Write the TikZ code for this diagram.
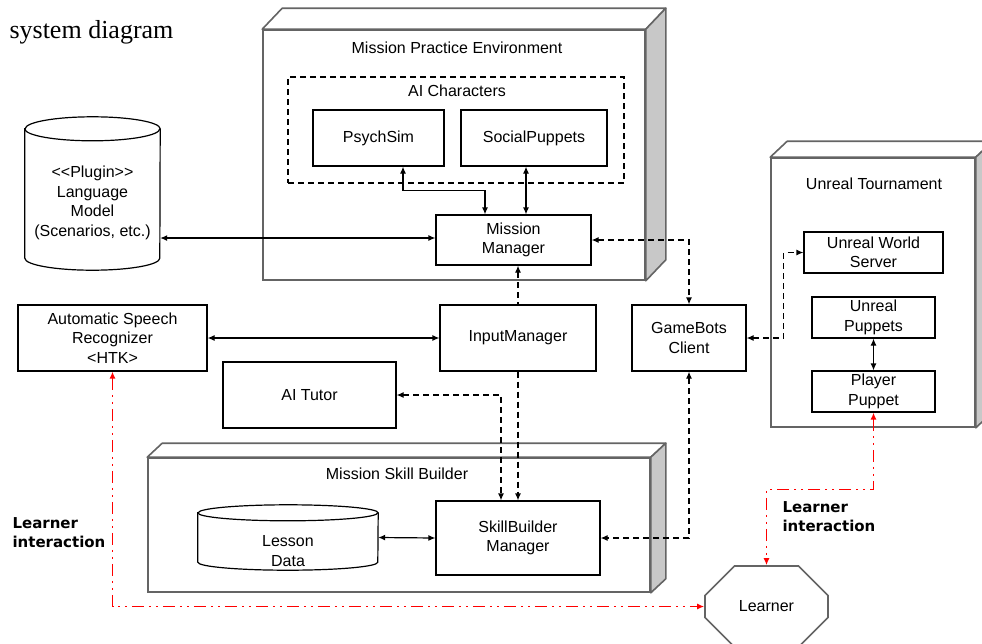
\documentclass[tikz,border=0pt]{standalone}
\usepackage{fontspec}
\setmainfont{Liberation Sans}
\newfontfamily\titleserif{Liberation Serif}
\newfontfamily\heavyfont{DejaVu Sans}
\usetikzlibrary{arrows.meta,shapes.misc}
\definecolor{cubegray}{RGB}{100,100,100}
\definecolor{sidegray}{RGB}{200,200,200}

\begin{document}
\begin{tikzpicture}[x=1pt,y=-1pt,
  >={Latex[length=7pt,width=6pt]},
  every node/.style={font=\fontsize{16}{19.5}\selectfont},
  box/.style={draw,line width=1.2pt,fill=white,align=center,inner sep=0pt},
  cube/.style={draw=cubegray,line width=1.6pt,fill=white,inner sep=0pt},
  face/.style={draw=cubegray,line width=1.6pt,line join=round},
  cyl/.style={line width=1.2pt,fill=white},
  link/.style={line width=1.2pt,<->},
  dlink/.style={link,dash pattern=on 6pt off 4pt},
  rlink/.style={line width=1.4pt,red,<->,dash pattern=on 12pt off 5pt on 2pt off 5pt on 2pt off 5pt},
  note/.style={font=\heavyfont\bfseries\fontsize{15}{19}\selectfont,align=left,anchor=west}]
\path[use as bounding box,fill=white] (0,0) rectangle (982,643);

\node[font=\titleserif\fontsize{26}{30}\selectfont,anchor=base west] (title) at (6,38) {system diagram};

% Mission Practice Environment
\node[cube,minimum width=382pt,minimum height=250pt] (mpe) at (454,155) {};
\draw[face,fill=white] (mpe.north west) -- ++(20,-21) -- ([shift={(20,-21)}]mpe.north east) -- (mpe.north east) -- cycle;
\draw[face,fill=sidegray] (mpe.north east) -- ++(20,-21) -- ([shift={(20,-21)}]mpe.south east) -- (mpe.south east) -- cycle;
\node (mpetitle) at (457,48) {Mission Practice Environment};
\node[draw,dashed,line width=1.1pt,dash pattern=on 6pt off 4pt,minimum width=336pt,minimum height=106pt] (aichar) at (456,130) {};
\node (aititle) at (457,91) {AI Characters};
\node[box,minimum width=131pt,minimum height=56pt] (psychsim) at (378.5,138) {PsychSim};
\node[box,minimum width=146pt,minimum height=56pt] (social) at (534,138) {SocialPuppets};
\node[box,minimum width=155pt,minimum height=50pt] (mm) at (513.5,240) {Mission\\Manager};

% Unreal Tournament
\node[cube,minimum width=204pt,minimum height=269pt] (ut) at (873,292.5) {};
\draw[face,fill=white] (ut.north west) -- ++(17,-16) -- ([shift={(17,-16)}]ut.north east) -- (ut.north east) -- cycle;
\draw[face,fill=sidegray] (ut.north east) -- ++(17,-16) -- ([shift={(17,-16)}]ut.south east) -- (ut.south east) -- cycle;
\node (uttitle) at (874,184) {Unreal Tournament};
\node[box,minimum width=139pt,minimum height=41pt] (uws) at (873.5,252.5) {Unreal World\\Server};
\node[box,minimum width=123pt,minimum height=41pt] (up) at (873.5,317.5) {Unreal\\Puppets};
\node[box,minimum width=123pt,minimum height=41pt] (pp) at (873.5,391.5) {Player\\Puppet};

% Mission Skill Builder
\node[cube,minimum width=502pt,minimum height=134pt] (msb) at (399,525) {};
\draw[face,fill=white] (msb.north west) -- ++(15,-14) -- ([shift={(15,-14)}]msb.north east) -- (msb.north east) -- cycle;
\draw[face,fill=sidegray] (msb.north east) -- ++(15,-14) -- ([shift={(15,-14)}]msb.south east) -- (msb.south east) -- cycle;
\node (msbtitle) at (397,474) {Mission Skill Builder};
\node[minimum width=180pt,minimum height=65pt,inner sep=0pt] (ld) at (288,537.5) {};
\draw[cyl] ([yshift=-8pt]ld.north west) -- ([yshift=8pt]ld.south west) arc[start angle=180,end angle=360,x radius=90pt,y radius=8pt] -- ([yshift=-8pt]ld.north east) arc[start angle=0,end angle=180,x radius=90pt,y radius=8pt] -- cycle;
\draw[line width=1.2pt] ([yshift=-8pt]ld.north west) arc[start angle=180,end angle=360,x radius=90pt,y radius=8pt];
\node[align=center] (ldtext) at (288,551) {Lesson\\Data};
\node[box,minimum width=164pt,minimum height=74pt] (sbm) at (518,538) {SkillBuilder\\Manager};

% language model
\node[minimum width=135pt,minimum height=153pt,inner sep=0pt] (lm) at (92.5,193.5) {};
\draw[cyl] ([yshift=-12pt]lm.north west) -- ([yshift=12pt]lm.south west) arc[start angle=180,end angle=360,x radius=67.5pt,y radius=12pt] -- ([yshift=-12pt]lm.north east) arc[start angle=0,end angle=180,x radius=67.5pt,y radius=12pt] -- cycle;
\draw[line width=1.2pt] ([yshift=-12pt]lm.north west) arc[start angle=180,end angle=360,x radius=67.5pt,y radius=12pt];
\node[align=center] (lmtext) at (92.5,203) {\textless\kern0pt\textless Plugin\textgreater\kern0pt\textgreater\\Language\\Model\\(Scenarios, etc.)};

\node[box,minimum width=189pt,minimum height=66pt] (asr) at (112.5,338) {Automatic Speech\\Recognizer\\\textless HTK\textgreater};
\node[box,minimum width=156pt,minimum height=66pt] (im) at (518,338) {InputManager};
\node[box,minimum width=173pt,minimum height=66pt] (tutor) at (309.5,395) {AI Tutor};
\node[box,minimum width=114pt,minimum height=66pt] (gb) at (689,338) {GameBots\\Client};
\node[draw=cubegray,line width=1.6pt,fill=white,chamfered rectangle,chamfered rectangle xsep=24pt,chamfered rectangle ysep=24pt,minimum width=123pt,minimum height=81pt,inner sep=0pt] (learner) at (766.5,606.5) {Learner};

% connectors
\draw[link] ([xshift=24.5pt]psychsim.south) -- ++(0,24) -| ([xshift=-28.5pt]mm.north);
\draw[link] ([xshift=-8pt]social.south) -- ([xshift=-8pt]social.south |- mm.north);
\draw[link] ([yshift=2pt]mm.west -| lm.east) -- ([yshift=2pt]mm.west);
\draw[dlink] (mm.east) -| (gb.north);
\draw[dlink,<-] (im.north |- mm.south) -- (im.north);
\draw[link] (asr.east) -- (im.west);
\draw[dlink,->] (im.south) -- (sbm.north);
\draw[dlink] (tutor.east) -| ([xshift=-17pt]sbm.north);
\draw[dlink] (gb.south) |- (sbm.east);
\draw[dlink] (gb.east) -- ++(37,0) |- (uws.west);
\draw[link] (up.south) -- (pp.north);
\draw[link] (ld.east) -- (sbm.west);
\draw[rlink] (pp.south) -- ++(0,77) -| (learner.north);
\draw[rlink] (asr.south) |- (learner.west);

\node[note] (note1) at (9,532.5) {Learner\\interaction};
\node[note] (note2) at (779,516.5) {Learner\\interaction};
\end{tikzpicture}
\end{document}
